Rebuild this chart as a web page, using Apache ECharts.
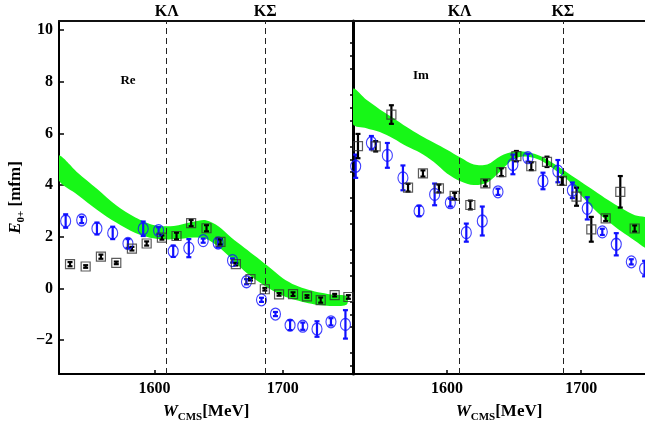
<!DOCTYPE html>
<html><head><meta charset="utf-8">
<script src="https://cdn.jsdelivr.net/npm/echarts@6/dist/echarts.min.js"></script>
<style>html,body{margin:0;padding:0;background:#fff}#c{width:645px;height:428px}</style>
</head><body><div id="c"></div>
<script>
// ---- Data ----
const thresholds = [1609.4, 1686.3];
const thresholdLabels = ['KΛ', 'KΣ'];
const xTicks = [1600, 1700];
const yMajorTicks = [-2, 0, 2, 4, 6, 8, 10];
const yMinorTicks = [-3, -2.5, -1.5, -1, -0.5, 0.5, 1, 1.5, 2.5, 3, 3.5, 4.5, 5, 5.5, 6.5, 7, 7.5, 8.5, 9, 9.5];

// Re panel: green band
const reBandX = [1525, 1540, 1555, 1570, 1585, 1600, 1615, 1630, 1640, 1650, 1660, 1670, 1680, 1690, 1700, 1710, 1720, 1730, 1740, 1750];
const reBandUpper = [5.15, 4.48, 3.86, 3.22, 2.75, 2.45, 2.42, 2.58, 2.64, 2.4, 1.96, 1.58, 1.2, 0.8, 0.4, 0.12, -0.05, -0.17, -0.25, -0.3];
const reBandLower = [4.2, 3.62, 3.05, 2.55, 2.15, 1.93, 1.9, 1.97, 1.92, 1.6, 1.15, 0.68, 0.3, -0.02, -0.28, -0.45, -0.57, -0.65, -0.68, -0.62];
// Re panel: blue circles
const reBlueX = [1530.6, 1543.1, 1555.0, 1567.3, 1579.2, 1591.1, 1603.1, 1614.5, 1626.7, 1637.9, 1649.6, 1660.8, 1671.7, 1683.4, 1694.3, 1705.7, 1715.6, 1726.7, 1737.6, 1748.9];
const reBlueY = [2.61, 2.65, 2.32, 2.15, 1.74, 2.31, 2.24, 1.44, 1.56, 1.85, 1.76, 1.08, 0.26, -0.44, -0.99, -1.42, -1.46, -1.57, -1.29, -1.39];
const reBlueErr = [0.26, 0.12, 0.23, 0.24, 0.17, 0.28, 0.13, 0.22, 0.35, 0.08, 0.17, 0.08, 0.1, 0.08, 0.08, 0.19, 0.14, 0.3, 0.14, 0.55];
// Re panel: black squares
const reBlackX = [1534.0, 1546.2, 1558.1, 1570.1, 1582.3, 1593.8, 1605.7, 1617.1, 1628.5, 1640.5, 1651.4, 1663.4, 1674.8, 1686.0, 1697.1, 1708.0, 1718.9, 1729.6, 1740.5, 1751.2];
const reBlackY = [0.94, 0.85, 1.23, 0.99, 1.54, 1.74, 1.97, 2.03, 2.53, 2.33, 1.8, 0.94, 0.36, -0.03, -0.23, -0.22, -0.31, -0.45, -0.26, -0.33];
const reBlackErr = [0.08, 0.05, 0.08, 0.05, 0.07, 0.08, 0.08, 0.13, 0.12, 0.12, 0.1, 0.05, 0.05, 0.05, 0.05, 0.07, 0.05, 0.1, 0.05, 0.07];

// Im panel: green band
const imBandX = [1530, 1540, 1550, 1560, 1570, 1580, 1590, 1600, 1610, 1620, 1630, 1640, 1650, 1660, 1670, 1680, 1690, 1700, 1710, 1720, 1730, 1740, 1750];
const imBandUpper = [7.72, 7.3, 6.93, 6.6, 6.25, 5.93, 5.65, 5.37, 5.07, 4.8, 4.8, 5.13, 5.3, 5.27, 5.12, 4.82, 4.47, 4.12, 3.77, 3.42, 3.1, 2.83, 2.68];
const imBandLower = [6.35, 6.2, 6.05, 5.8, 5.5, 5.25, 4.9, 4.45, 4.15, 4.0, 4.1, 4.55, 5.02, 5.1, 4.95, 4.6, 4.2, 3.6, 3.05, 2.6, 2.2, 1.85, 1.55];
// Im panel: blue circles
const imBlueX = [1532.0, 1543.7, 1555.6, 1567.2, 1579.2, 1590.8, 1602.5, 1614.4, 1626.3, 1638.0, 1649.1, 1660.3, 1671.5, 1682.6, 1693.4, 1704.5, 1715.7, 1726.1, 1737.3, 1747.2];
const imBlueY = [4.73, 5.64, 5.15, 4.28, 3.0, 3.64, 3.32, 2.16, 2.61, 3.74, 4.8, 5.06, 4.16, 4.54, 3.8, 3.1, 2.19, 1.71, 1.03, 0.77];
const imBlueErr = [0.45, 0.26, 0.48, 0.48, 0.2, 0.42, 0.15, 0.35, 0.56, 0.12, 0.38, 0.15, 0.32, 0.43, 0.3, 0.43, 0.12, 0.43, 0.1, 0.3];
// Im panel: black squares
const imBlackX = [1533.7, 1546.9, 1558.6, 1571.0, 1582.1, 1594.0, 1605.7, 1617.4, 1628.6, 1640.5, 1651.7, 1662.8, 1674.5, 1685.6, 1696.5, 1707.5, 1718.2, 1729.1, 1739.8];
const imBlackY = [5.51, 5.5, 6.73, 3.9, 4.45, 3.87, 3.58, 3.23, 4.07, 4.5, 5.12, 4.73, 4.9, 4.16, 3.55, 2.29, 2.71, 3.74, 2.32];
const imBlackErr = [0.47, 0.2, 0.36, 0.15, 0.12, 0.15, 0.12, 0.17, 0.12, 0.15, 0.2, 0.15, 0.2, 0.15, 0.35, 0.48, 0.1, 0.61, 0.12];

// ---- Build ----
const SERIF = '"Liberation Serif", "Times New Roman", serif';
const GREEN = '#17f717';
const BLUE = '#1010ff';
const pairs = (xs, ys) => xs.map((x, i) => [x, ys[i]]);
const triples = (xs, ys, es) => xs.map((x, i) => [x, ys[i], es[i]]);

function errRender(color, cap, lw) {
  return function (params, api) {
    const x = api.value(0), y = api.value(1), e = api.value(2);
    const t = api.coord([x, y + e]), b = api.coord([x, y - e]);
    const st = { stroke: color, lineWidth: lw };
    return { type: 'group', children: [
      { type: 'line', shape: { x1: t[0], y1: t[1], x2: b[0], y2: b[1] }, style: st },
      { type: 'line', shape: { x1: t[0] - cap, y1: t[1], x2: t[0] + cap, y2: t[1] }, style: st },
      { type: 'line', shape: { x1: b[0] - cap, y1: b[1], x2: b[0] + cap, y2: b[1] }, style: st }
    ]};
  };
}
const bands = {
  reBand: { x: reBandX, up: reBandUpper, lo: reBandLower },
  imBand: { x: imBandX, up: imBandUpper, lo: imBandLower }
};
// band: polygon through upper edge then lower edge reversed
function bandRender(params, api) {
  const band = bands[params.seriesName];
  const pts = [];
  for (let i = 0; i < band.x.length; i++) pts.push(api.coord([band.x[i], band.up[i]]));
  for (let i = band.x.length - 1; i >= 0; i--) pts.push(api.coord([band.x[i], band.lo[i]]));
  const cs = params.coordSys;
  return { type: 'polygon', shape: { points: pts, smooth: 0.3 }, style: { fill: GREEN },
    clipPath: { type: 'rect', shape: { x: cs.x, y: cs.y, width: cs.width, height: cs.height } } };
}

const labelFont = { fontFamily: SERIF, fontWeight: 'bold', fontSize: 16, color: '#000' };
const nameRich = {
  i: { fontFamily: SERIF, fontStyle: 'italic', fontWeight: 'bold', fontSize: 17, lineHeight: 22, color: '#000' },
  s: { fontFamily: SERIF, fontWeight: 'bold', fontSize: 11, lineHeight: 12, verticalAlign: 'bottom', color: '#000' },
  b: { fontFamily: SERIF, fontWeight: 'bold', fontSize: 17, lineHeight: 22, color: '#000' }
};

function bottomAxis(gi, min, max) {
  return {
    gridIndex: gi, type: 'value', min: min, max: max, position: 'bottom',
    axisLine: { show: true, onZero: false, lineStyle: { color: '#000', width: 2 } },
    axisTick: { show: true, inside: true, length: 4, customValues: xTicks, lineStyle: { color: '#000', width: 1.5 } },
    axisLabel: Object.assign({ customValues: xTicks, margin: 7, formatter: v => String(v) }, labelFont),
    splitLine: { show: false },
    name: '{i|W}{s|CMS}{b|[MeV]}', nameLocation: 'middle', nameGap: 27,
    nameTextStyle: { rich: nameRich }
  };
}
function topAxis(gi, min, max) {
  return {
    gridIndex: gi, type: 'value', min: min, max: max, position: 'top',
    axisLine: { show: true, onZero: false, lineStyle: { color: '#111', width: 2 } },
    axisTick: { show: false }, axisLabel: { show: false }, splitLine: { show: false }
  };
}
const yMin = -3.31, yMax = 10.35;

function panelSeries(name, xi, yi, bX, bY, bE, kX, kY, kE) {
  const b = bands[name];
  return [
    { type: 'custom', name: name, xAxisIndex: xi, yAxisIndex: yi, z: 1, silent: true,
      data: [[b.x[0], b.lo[0]]], renderItem: bandRender },
    { type: 'custom', xAxisIndex: xi, yAxisIndex: yi, clip: true, z: 3,
      data: triples(bX, bY, bE), renderItem: errRender(BLUE, 2.5, 2.2) },
    { type: 'custom', xAxisIndex: xi, yAxisIndex: yi, clip: true, z: 4,
      data: triples(kX, kY, kE), renderItem: errRender('#000', 2.5, 2.2) },
    { type: 'scatter', xAxisIndex: xi, yAxisIndex: yi, clip: true, z: 5,
      data: pairs(bX, bY), symbol: 'circle', symbolSize: [10, 12],
      itemStyle: { color: 'rgba(0,0,0,0)', borderColor: BLUE, borderWidth: 1.2 },
      markLine: {
        silent: true, symbol: ['none', 'none'], z: 6,
        lineStyle: { type: [6, 4], color: '#222', width: 1 },
        label: Object.assign({ show: true, position: 'end', distance: 1, formatter: p => p.name }, labelFont),
        data: thresholds.map((t, i) => ({ name: thresholdLabels[i], xAxis: t }))
      } },
    { type: 'scatter', xAxisIndex: xi, yAxisIndex: yi, clip: true, z: 5,
      data: pairs(kX, kY), symbol: 'rect', symbolSize: 9,
      itemStyle: { color: 'rgba(0,0,0,0)', borderColor: '#333', borderWidth: 1.2 } }
  ];
}

const chart = echarts.init(document.getElementById('c'), null, { renderer: 'canvas' });
chart.setOption({
  animation: false,
  backgroundColor: '#fff',
  grid: [
    { left: 59, top: 21, width: 294, height: 354 },
    { left: 353, top: 21, width: 292, height: 354 }
  ],
  xAxis: [
    bottomAxis(0, 1525.4, 1754.8),
    bottomAxis(1, 1530, 1747.5),
    topAxis(0, 1525.4, 1754.8),
    topAxis(1, 1530, 1747.5)
  ],
  yAxis: [
    { gridIndex: 0, type: 'value', min: yMin, max: yMax,
      axisLine: { show: true, onZero: false, lineStyle: { color: '#000', width: 2 } },
      axisTick: { show: true, inside: true, length: 5, customValues: yMajorTicks, lineStyle: { color: '#000', width: 1.5 } },
      axisLabel: Object.assign({ customValues: yMajorTicks, margin: 6, formatter: v => String(v).replace('-', '\u2212') }, labelFont),
      splitLine: { show: false },
      name: '{i|E}{s|0+}{b| [mfm]}', nameLocation: 'middle', nameRotate: 90, nameGap: 32,
      nameTextStyle: { rich: nameRich } },
    { gridIndex: 0, type: 'value', min: yMin, max: yMax,
      axisLine: { show: false },
      axisTick: { show: true, inside: true, length: 3, customValues: yMinorTicks, lineStyle: { color: '#000', width: 1.5 } },
      axisLabel: { show: false }, splitLine: { show: false } },
    { gridIndex: 1, type: 'value', min: yMin, max: yMax,
      axisLine: { show: true, onZero: false, lineStyle: { color: '#000', width: 3 } },
      axisTick: { show: false }, axisLabel: { show: false }, splitLine: { show: false } }
  ],
  graphic: [
    { type: 'text', x: 128, y: 81, z: 10, style: { text: 'Re', font: 'bold 13px "Liberation Serif"', fill: '#000', align: 'center', verticalAlign: 'middle' } },
    { type: 'text', x: 421, y: 76, z: 10, style: { text: 'Im', font: 'bold 13px "Liberation Serif"', fill: '#000', align: 'center', verticalAlign: 'middle' } }
  ],
  series: [].concat(
    panelSeries('reBand', 0, 0, reBlueX, reBlueY, reBlueErr, reBlackX, reBlackY, reBlackErr),
    panelSeries('imBand', 1, 2, imBlueX, imBlueY, imBlueErr, imBlackX, imBlackY, imBlackErr)
  )
});
</script>
</body></html>
